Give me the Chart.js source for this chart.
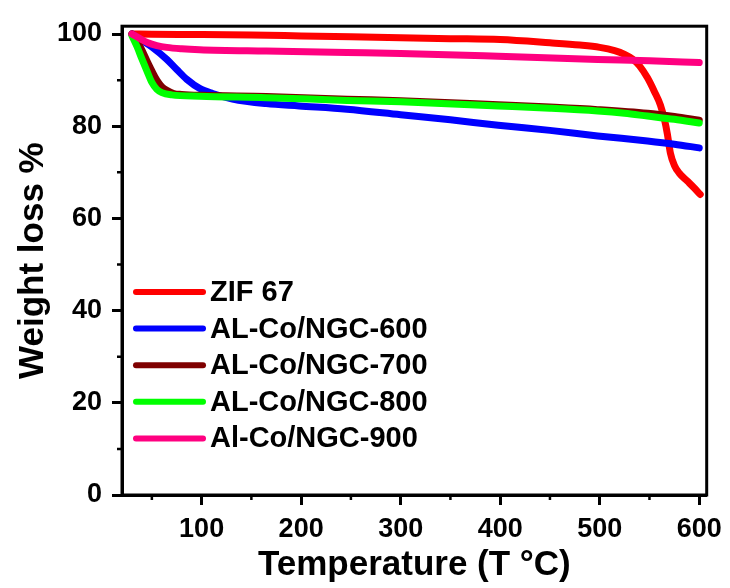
<!DOCTYPE html>
<html>
<head>
<meta charset="utf-8">
<title>TGA</title>
<script src="https://cdn.jsdelivr.net/npm/chart.js@4.4.0/dist/chart.umd.min.js"></script>
<style>
  html, body { margin: 0; padding: 0; background: #fff; }
  #tga { display: block; }
</style>
</head>
<body>
<canvas id="tga" width="730" height="588"></canvas>
<script>
// series names / colours, also used for the legend drawn inside the plot
const seriesNames = ['ZIF 67', 'AL-Co/NGC-600', 'AL-Co/NGC-700', 'AL-Co/NGC-800', 'Al-Co/NGC-900'];
const seriesColors = ['#ff0000', '#0000ff', '#7f0000', '#00ff00', '#ff0080'];

// temperature (°C) and weight (%) for each sample
const zifT = [30, 50, 100, 150, 200, 250, 300, 350, 400, 450, 480, 500, 515, 525, 533, 540, 548, 555, 561, 565, 568, 571, 575, 580, 588, 595, 601];
const zifW = [100, 99.95, 99.9, 99.8, 99.6, 99.4, 99.2, 99.0, 98.8, 98.1, 97.6, 97.1, 96.4, 95.6, 94.6, 93.1, 90.5, 87.5, 84.6, 81.5, 78.3, 74.2, 71.5, 69.8, 68.1, 66.6, 65.2];

const ngc600T = [30, 40, 50, 65, 75, 85, 98, 111, 131, 165, 198, 246, 300, 350, 398, 450, 498, 548, 575, 600];
const ngc600W = [100, 98.6, 97.2, 94.5, 92.3, 90.2, 88.2, 87.1, 85.9, 84.9, 84.4, 83.7, 82.5, 81.4, 80.2, 79.1, 77.9, 76.8, 76.1, 75.3];

const ngc700T = [30, 35, 40, 45, 50, 55, 60, 65, 72, 80, 100, 165, 246, 300, 398, 450, 498, 548, 575, 600];
const ngc700W = [100, 98.5, 96.5, 94.2, 92.0, 90.0, 88.6, 87.8, 87.1, 86.9, 86.7, 86.45, 85.85, 85.55, 84.65, 84.15, 83.6, 82.8, 82.1, 81.3];

const ngc800T = [30, 35, 40, 45, 50, 55, 60, 70, 98, 165, 246, 300, 398, 450, 498, 525, 548, 575, 600];
const ngc800W = [99.6, 97.3, 94.6, 92.0, 89.5, 88.0, 87.3, 86.8, 86.5, 86.2, 85.6, 85.3, 84.4, 83.9, 83.3, 82.8, 82.2, 81.5, 80.7];

const ngc900T = [30, 38, 46, 55, 65, 80, 98, 165, 246, 300, 398, 498, 550, 600];
const ngc900W = [100, 99.0, 98.1, 97.5, 97.1, 96.8, 96.6, 96.3, 96.0, 95.8, 95.2, 94.5, 94.2, 93.8];

// axis ticks
const xMajor = [100, 200, 300, 400, 500, 600];
const xMinor = [50, 150, 250, 350, 450, 550];
const yMajor = [0, 20, 40, 60, 80, 100];
const yMinor = [10, 30, 50, 70, 90];

const seriesT = [zifT, ngc600T, ngc700T, ngc800T, ngc900T];
const seriesW = [zifW, ngc600W, ngc700W, ngc800W, ngc900W];

const pairUp = (ts, ws) => ts.map((t, i) => ({ x: t, y: ws[i] }));

const FONT = '"Liberation Sans", Arial, sans-serif';

// frame, minor ticks and the in-plot legend
const framePlugin = {
    id: 'frame',
    afterDraw(chart) {
        const { ctx, chartArea: a, scales } = chart;
        ctx.save();
        ctx.strokeStyle = '#000';
        ctx.lineWidth = 3;
        ctx.strokeRect(a.left, a.top, a.right - a.left, a.bottom - a.top);

        ctx.lineWidth = 2.5;
        ctx.beginPath();
        xMinor.forEach(v => {
            const px = scales.x.getPixelForValue(v);
            ctx.moveTo(px, a.bottom);
            ctx.lineTo(px, a.bottom + 5);
        });
        yMinor.forEach(v => {
            const py = scales.y.getPixelForValue(v);
            ctx.moveTo(a.left, py);
            ctx.lineTo(a.left - 5, py);
        });
        ctx.stroke();

        ctx.font = 'bold 29px ' + FONT;
        ctx.textBaseline = 'middle';
        ctx.textAlign = 'left';
        ctx.lineCap = 'round';
        ctx.lineWidth = 6;
        seriesNames.forEach((name, i) => {
            const y = 292 + i * 36.6;
            ctx.strokeStyle = seriesColors[i];
            ctx.beginPath();
            ctx.moveTo(136, y);
            ctx.lineTo(203, y);
            ctx.stroke();
            ctx.fillStyle = '#000';
            ctx.fillText(name, 210, y + 1);
        });
        ctx.restore();
    }
};

new Chart(document.getElementById('tga'), {
    type: 'line',
    data: {
        datasets: seriesNames.map((name, i) => ({
            label: name,
            data: pairUp(seriesT[i], seriesW[i]),
            borderColor: seriesColors[i],
            backgroundColor: seriesColors[i],
            borderWidth: 7,
            borderCapStyle: 'round',
            borderJoinStyle: 'round',
            pointRadius: 0,
            cubicInterpolationMode: 'monotone',
            order: seriesNames.length - i
        }))
    },
    options: {
        responsive: false,
        animation: false,
        devicePixelRatio: 1,
        layout: { padding: { top: 24, right: 19, left: 0, bottom: 0 } },
        plugins: {
            legend: { display: false },
            tooltip: { enabled: false }
        },
        scales: {
            x: {
                type: 'linear',
                min: 20,
                max: 607.5,
                afterFit: axis => { axis.height = 93; },
                afterBuildTicks: axis => { axis.ticks = xMajor.map(v => ({ value: v })); },
                grid: { drawOnChartArea: false, tickLength: 10, tickWidth: 3, tickColor: '#000' },
                border: { display: true, color: '#000', width: 3 },
                ticks: { color: '#000', padding: 8, maxRotation: 0, font: { family: FONT, size: 27, weight: 'bold' } },
                title: {
                    display: true,
                    text: 'Temperature (T \u00b0C)',
                    color: '#000',
                    padding: { top: 0, bottom: 2 },
                    font: { family: FONT, size: 35, weight: 'bold' }
                }
            },
            y: {
                min: 0,
                max: 101.7,
                afterFit: axis => { axis.width = 122; },
                afterBuildTicks: axis => { axis.ticks = yMajor.map(v => ({ value: v })); },
                grid: { drawOnChartArea: false, tickLength: 10, tickWidth: 3, tickColor: '#000' },
                border: { display: true, color: '#000', width: 3 },
                ticks: { color: '#000', padding: 10, font: { family: FONT, size: 27, weight: 'bold' } },
                title: {
                    display: true,
                    text: 'Weight loss %',
                    color: '#000',
                    padding: { top: 12, bottom: 0 },
                    font: { family: FONT, size: 35, weight: 'bold' }
                }
            }
        }
    },
    plugins: [framePlugin]
});
</script>
</body>
</html>
